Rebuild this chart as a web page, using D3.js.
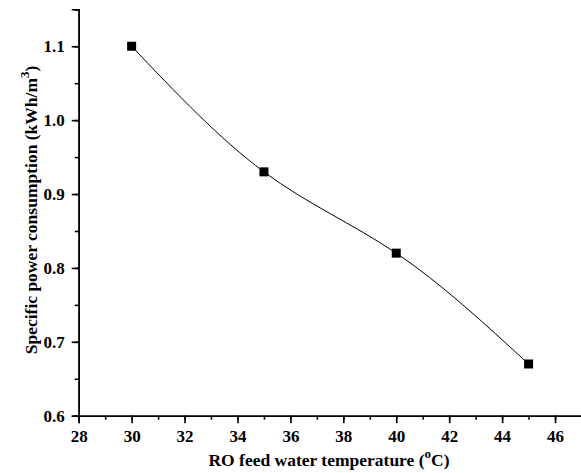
<!DOCTYPE html>
<html><head><meta charset="utf-8">
<script src="https://cdn.jsdelivr.net/npm/d3@7"></script>
<style>body{margin:0;background:#fff}svg{display:block}text{font-family:"Liberation Serif","Times New Roman",serif;font-weight:bold;fill:#000}</style>
</head><body>
<svg id="c" width="581" height="473"></svg>
<script>
const temps = [30, 35, 40, 45];
const power = [1.10, 0.93, 0.82, 0.67];
const xTicks = [28, 30, 32, 34, 36, 38, 40, 42, 44, 46];
const yTicks = [0.6, 0.7, 0.8, 0.9, 1.0, 1.1];
const xLabel = "RO feed water temperature (";
const yLabel = "Specific power consumption (kWh/m";

const svg = d3.select("#c");
const L = 78.7, R = 581.5, T = 9.3, B = 415.7;
const x = d3.scaleLinear().domain([28, 47]).range([L, R]);
const y = d3.scaleLinear().domain([0.6, 1.15]).range([B, T]);

// x axis
const gx = svg.append("g").attr("transform", `translate(0,${B})`)
  .call(d3.axisBottom(x).tickValues(d3.range(28, 48, 1)).tickSize(4).tickFormat(""));
const gx2 = svg.append("g").attr("transform", `translate(0,${B})`)
  .call(d3.axisBottom(x).tickValues(xTicks).tickSize(7.5).tickPadding(5).tickFormat(d3.format("d")));
[gx, gx2].forEach(g => { g.select(".domain").attr("stroke-width", 1.6).attr("stroke", "#000"); g.selectAll("line").attr("stroke-width", 1.6).attr("stroke", "#000"); });
gx2.selectAll("text").attr("font-size", 17).attr("dy", "0.8em");

// y axis
const gy = svg.append("g").attr("transform", `translate(${L},0)`)
  .call(d3.axisLeft(y).tickValues(d3.range(0.6, 1.151, 0.05)).tickSize(4).tickFormat(""));
const gy2 = svg.append("g").attr("transform", `translate(${L},0)`)
  .call(d3.axisLeft(y).tickValues(yTicks).tickSize(7).tickPadding(7).tickFormat(d3.format(".1f")));
[gy, gy2].forEach(g => { g.select(".domain").attr("stroke-width", 1.6).attr("stroke", "#000"); g.selectAll("line").attr("stroke-width", 1.6).attr("stroke", "#000"); });
gy2.selectAll("text").attr("font-size", 17);

// curve
const pts = temps.map((t, i) => [t, power[i]]);
svg.append("path").datum(pts)
  .attr("d", d3.line().x(d => x(d[0])).y(d => y(d[1])).curve(d3.curveNatural))
  .attr("fill", "none").attr("stroke", "#000").attr("stroke-width", 1);
const s = 9;
svg.selectAll("rect.m").data(pts).enter().append("rect")
  .attr("x", d => x(d[0]) - s / 2).attr("y", d => y(d[1]) - s / 2)
  .attr("width", s).attr("height", s).attr("fill", "#000");

// axis titles
const xt = svg.append("text").attr("x", 329).attr("y", 466).attr("text-anchor", "middle").attr("font-size", 17.5);
xt.append("tspan").text(xLabel);
xt.append("tspan").attr("dy", -8).attr("font-size", 13).text("o");
xt.append("tspan").attr("dy", 8).text("C)");

const yt = svg.append("text").attr("transform", "translate(37,210) rotate(-90)").attr("text-anchor", "middle").attr("font-size", 17.5);
yt.append("tspan").text(yLabel);
yt.append("tspan").attr("dy", -8).attr("font-size", 13).text("3");
yt.append("tspan").attr("dy", 8).text(")");
</script>
</body></html>
